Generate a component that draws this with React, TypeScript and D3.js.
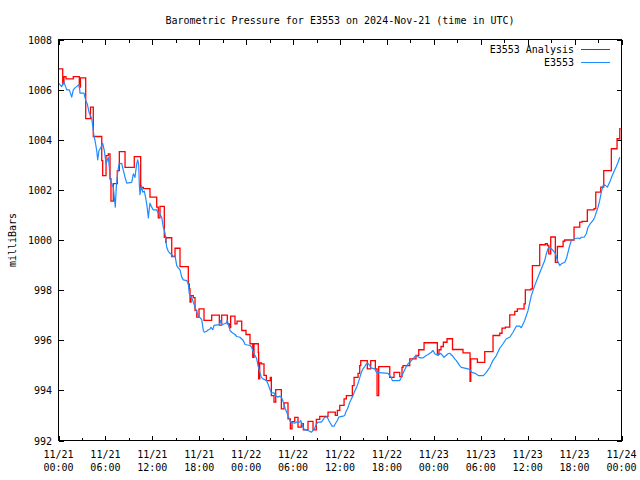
import React from "react";
import * as d3 from "d3";

const title = "Barometric Pressure for E3553 on 2024-Nov-21 (time in UTC)";
const yLabel = "milliBars";
const seriesNames = ["E3553 Analysis", "E3553"];
const seriesColors = ["#ff0000", "#1e8cff"];

const yTicks = [992, 994, 996, 998, 1000, 1002, 1004, 1006, 1008];
const xTickHours = [0, 6, 12, 18, 24, 30, 36, 42, 48, 54, 60, 66, 72];
const xTickDates = ["11/21", "11/21", "11/21", "11/21", "11/22", "11/22", "11/22", "11/22", "11/23", "11/23", "11/23", "11/23", "11/24"];
const xTickTimes = ["00:00", "06:00", "12:00", "18:00", "00:00", "06:00", "12:00", "18:00", "00:00", "06:00", "12:00", "18:00", "00:00"];

// hours since 2024-11-21 00:00 UTC, pressure (mb)
const analysis: [number, number][] = [
  [0, 1006.83], [0.54, 1006.23], [0.70, 1006.52], [0.96, 1006.43], [1.89, 1006.52],
  [2.66, 1006.10], [2.81, 1006.47], [3.48, 1004.84], [4.09, 1005.30], [4.45, 1004.13],
  [5.53, 1003.17], [5.65, 1002.57], [6.08, 1003.37], [6.37, 1003.44], [6.59, 1002.45],
  [6.71, 1001.55], [7.01, 1002.25], [7.52, 1002.77], [7.78, 1003.53], [8.51, 1002.90],
  [9.69, 1003.33], [10.51, 1002.10], [10.85, 1002.05], [11.70, 1001.71], [12.56, 1001.31],
  [12.76, 1000.88], [12.98, 1001.34], [13.53, 1000.11], [13.71, 999.91], [13.75, 1000.09],
  [14.48, 999.34], [14.90, 999.67], [15.54, 998.94], [16.60, 998.25], [16.73, 998.05],
  [16.82, 997.52], [16.95, 997.78], [17.24, 997.70], [17.46, 997.19], [17.68, 996.92],
  [17.97, 997.25], [18.61, 996.79], [19.59, 997.00], [20.57, 996.60], [20.87, 997.00],
  [21.59, 996.65], [21.85, 996.50], [22.02, 996.96], [22.57, 996.65], [22.83, 996.76],
  [23.43, 996.39], [23.98, 996.23], [24.49, 995.86], [24.84, 995.32], [25.00, 995.86],
  [25.55, 995.52], [25.60, 994.46], [25.73, 995.10], [25.94, 995.06], [26.28, 994.60],
  [26.58, 994.39], [27.09, 994.52], [27.22, 993.79], [27.56, 993.53], [27.78, 994.03],
  [28.50, 993.26], [28.85, 993.50], [29.35, 992.86], [29.65, 992.46], [29.86, 992.75],
  [30.21, 992.92], [30.63, 992.53], [31.05, 992.67], [31.31, 992.42], [31.91, 992.76],
  [32.55, 992.42], [32.97, 992.84], [33.41, 992.96], [34.47, 993.13], [35.40, 993.00],
  [35.66, 993.20], [35.97, 993.40], [36.52, 993.66], [36.81, 993.79], [37.58, 994.19],
  [37.80, 994.52], [38.31, 994.68], [38.52, 994.99], [38.65, 995.19], [39.49, 994.86],
  [39.93, 995.19], [40.52, 994.86], [40.74, 993.79], [40.95, 994.95], [42.36, 994.52],
  [42.91, 994.72], [43.64, 994.55], [43.93, 994.92], [44.06, 994.99], [44.92, 995.26],
  [45.72, 995.40], [46.07, 995.62], [46.75, 995.90], [48.45, 995.45], [48.66, 995.62],
  [48.92, 995.75], [49.22, 995.92], [49.69, 996.06], [50.39, 995.63], [51.73, 995.50],
  [52.63, 994.36], [52.72, 995.26], [53.57, 995.12], [54.51, 995.55], [55.57, 996.19],
  [56.43, 996.28], [56.72, 996.48], [57.15, 996.52], [57.71, 997.01], [58.35, 997.15],
  [58.68, 997.25], [59.54, 997.45], [59.70, 998.01], [60.43, 998.05], [60.60, 998.98],
  [61.54, 999.81], [62.26, 999.85], [62.52, 999.78], [62.70, 999.45], [62.95, 1000.12],
  [63.54, 999.11], [63.80, 999.74], [64.53, 999.95], [64.74, 1000.00], [65.93, 1000.51],
  [66.66, 1000.71], [66.96, 1000.74], [67.63, 1001.20], [68.49, 1001.25], [68.71, 1001.91],
  [69.35, 1002.11], [69.73, 1002.77], [70.70, 1003.64], [71.43, 1004.04], [71.78, 1004.44],
  [71.90, 1004.44],
];

const observed: [number, number][] = [
  [0, 1006.26], [0.41, 1006.12], [0.70, 1006.30], [1.05, 1005.99], [1.38, 1005.99],
  [1.69, 1005.70], [1.89, 1005.99], [2.11, 1006.07], [2.46, 1006.16], [2.66, 1006.20],
  [2.75, 1005.86], [3.26, 1005.86], [3.48, 1005.57], [3.68, 1005.43], [3.90, 1005.10],
  [4.25, 1004.84], [4.37, 1004.57], [4.54, 1004.13], [4.67, 1003.97], [4.89, 1003.57],
  [5.01, 1003.20], [5.18, 1003.57], [5.40, 1003.68], [5.65, 1003.86], [5.86, 1003.57],
  [6.08, 1003.04], [6.37, 1003.30], [6.50, 1002.90], [6.59, 1002.44], [6.80, 1002.24],
  [7.01, 1002.10], [7.26, 1001.31], [7.39, 1002.10], [7.57, 1002.70], [7.74, 1003.04],
  [8.08, 1003.06], [8.51, 1002.50], [8.72, 1002.27], [9.36, 1002.30], [9.57, 1002.64],
  [9.78, 1002.50], [10.00, 1003.04], [10.13, 1003.20], [10.26, 1003.00], [10.33, 1002.24],
  [10.42, 1001.81], [10.60, 1002.17], [10.77, 1001.91], [10.97, 1001.95], [11.13, 1001.71],
  [11.28, 1001.44], [11.41, 1001.11], [11.49, 1000.88], [11.61, 1001.24], [11.70, 1001.47],
  [11.92, 1001.31], [12.12, 1001.20], [12.56, 1001.20], [12.76, 1001.07], [12.98, 1001.04],
  [13.20, 1000.91], [13.40, 1000.51], [13.53, 1000.40], [13.71, 1000.11], [13.75, 999.91],
  [13.84, 999.71], [14.04, 999.55], [14.26, 999.47], [14.48, 999.42], [14.68, 999.34],
  [14.90, 999.38], [15.12, 998.98], [15.32, 998.89], [15.54, 998.81], [15.76, 998.52],
  [15.96, 998.41], [16.40, 998.38], [16.60, 998.25], [16.73, 997.85], [16.91, 997.72],
  [17.04, 997.70], [17.24, 997.52], [17.46, 997.32], [17.68, 997.12], [17.88, 996.99],
  [18.10, 996.90], [18.32, 996.82], [18.52, 996.39], [18.65, 996.32], [18.95, 996.36],
  [19.16, 996.42], [19.38, 996.45], [19.50, 996.52], [19.72, 996.42], [19.89, 996.59],
  [20.57, 996.62], [20.75, 996.79], [20.87, 996.62], [21.42, 996.68], [21.59, 996.79],
  [21.72, 996.62], [21.85, 996.52], [21.93, 996.39], [22.15, 996.32], [22.57, 996.23],
  [22.79, 996.15], [23.21, 996.12], [23.64, 995.99], [23.85, 995.83], [24.49, 995.79],
  [24.71, 995.72], [24.91, 995.52], [25.13, 995.39], [25.35, 995.26], [25.51, 994.99],
  [25.94, 994.52], [26.15, 994.46], [26.58, 994.40], [26.79, 994.26], [27.01, 994.06],
  [27.22, 993.90], [27.56, 993.90], [27.73, 993.79], [28.07, 993.73], [28.29, 993.77],
  [28.50, 993.73], [28.71, 993.57], [28.84, 993.43], [29.01, 993.26], [29.19, 993.13],
  [29.35, 993.00], [29.57, 992.82], [29.70, 992.73], [30.21, 992.69], [30.41, 992.73],
  [30.85, 992.73], [30.98, 992.80], [31.14, 992.64], [31.27, 992.53], [31.49, 992.42],
  [31.91, 992.40], [32.13, 992.37], [32.33, 992.33], [32.55, 992.40], [32.77, 992.50],
  [32.97, 992.64], [33.19, 992.73], [33.61, 992.73], [33.83, 992.82], [34.05, 992.93],
  [34.38, 992.93], [34.56, 992.80], [34.81, 992.67], [34.98, 992.57], [35.24, 992.57],
  [35.40, 992.67], [35.66, 992.80], [35.84, 992.93], [36.39, 992.97], [36.61, 993.00],
  [36.73, 993.13], [36.94, 993.26], [37.12, 993.40], [37.25, 993.53], [37.45, 993.66],
  [37.67, 993.79], [37.88, 993.97], [38.09, 994.10], [38.31, 994.28], [38.52, 994.50],
  [38.73, 994.72], [38.94, 994.86], [39.16, 994.95], [39.37, 995.06], [39.58, 995.08],
  [39.80, 995.00], [39.93, 994.90], [40.44, 994.86], [40.65, 994.72], [42.14, 994.68],
  [42.36, 994.59], [42.56, 994.52], [42.69, 994.39], [43.64, 994.39], [43.84, 994.52],
  [44.06, 994.68], [44.28, 994.82], [44.48, 994.95], [44.70, 995.06], [44.92, 995.12],
  [45.34, 995.26], [45.56, 995.35], [45.76, 995.39], [46.20, 995.30], [46.62, 995.30],
  [47.04, 995.39], [47.26, 995.43], [47.68, 995.52], [47.90, 995.59], [48.12, 995.46],
  [48.54, 995.39], [48.88, 995.48], [49.30, 995.32], [49.82, 995.46], [50.03, 995.48],
  [50.46, 995.35], [50.67, 995.26], [50.88, 995.19], [51.10, 995.09], [51.31, 994.99],
  [51.52, 994.92], [52.37, 994.86], [52.63, 994.82], [52.85, 994.72], [53.27, 994.68],
  [53.69, 994.59], [54.33, 994.59], [54.71, 994.72], [55.15, 994.92], [55.57, 995.20],
  [55.99, 995.39], [56.43, 995.68], [56.85, 995.86], [57.27, 996.06], [57.71, 996.12],
  [58.13, 996.32], [58.55, 996.56], [58.98, 996.56], [59.19, 996.50], [59.62, 996.79],
  [60.05, 997.19], [60.47, 997.78], [60.90, 998.18], [61.33, 998.52], [61.75, 998.85],
  [62.18, 999.18], [62.39, 999.45], [62.60, 999.65], [62.82, 999.71], [63.03, 999.65],
  [63.25, 999.58], [63.54, 999.47], [63.80, 999.18], [64.10, 998.98], [64.31, 999.05],
  [64.74, 999.11], [64.95, 999.25], [65.16, 999.51], [65.38, 999.78], [65.58, 999.98],
  [66.02, 1000.05], [66.44, 1000.08], [66.66, 1000.05], [66.86, 1000.11], [67.21, 1000.11],
  [67.50, 1000.25], [67.72, 1000.51], [67.94, 1000.62], [68.36, 1000.78], [68.58, 1000.91],
  [68.78, 1001.11], [69.00, 1001.31], [69.21, 1001.57], [69.42, 1001.91], [69.64, 1002.17],
  [69.86, 1002.20], [70.19, 1002.11], [70.50, 1002.31], [70.70, 1002.48], [70.92, 1002.64],
  [71.14, 1002.80], [71.34, 1002.93], [71.56, 1003.10], [71.78, 1003.30],
];

const W = 640;
const H = 480;
const L = 58.5;
const R = 621.5;
const T = 39.5;
const B = 440.5;
const FONT = "'DejaVu Sans Mono', monospace";

export default function App() {
  const x = d3.scaleLinear().domain([0, 72]).range([L, R]);
  const y = d3.scaleLinear().domain([992, 1008]).range([B, T]);

  const redLine = d3
    .line<[number, number]>()
    .x((d) => x(d[0]))
    .y((d) => y(d[1]))
    .curve(d3.curveStepAfter);
  const blueLine = d3
    .line<[number, number]>()
    .x((d) => x(d[0]))
    .y((d) => y(d[1]));

  const minorX = d3.range(0, 73, 3);

  return (
    <svg
      width={W}
      height={H}
      style={{ position: "absolute", left: 0, top: 0, background: "#fff" }}
      fontFamily={FONT}
      fontSize={10}
    >
      <rect x={0} y={0} width={W} height={H} fill="#fff" />
      <text x={(L + R) / 2} y={24} textAnchor="middle" fill="#000">
        {title}
      </text>
      <text transform={`translate(15.5,${(T + B) / 2}) rotate(-90)`} textAnchor="middle" fill="#000">
        {yLabel}
      </text>

      {/* y ticks */}
      {yTicks.map((v) => (
        <g key={"y" + v}>
          <line x1={L} x2={L + 5} y1={Math.round(y(v)) + 0.5} y2={Math.round(y(v)) + 0.5} stroke="#000" shapeRendering="crispEdges" />
          <line x1={R - 5} x2={R} y1={Math.round(y(v)) + 0.5} y2={Math.round(y(v)) + 0.5} stroke="#000" shapeRendering="crispEdges" />
          <text x={52} y={y(v) + 4} textAnchor="end" fill="#000">
            {v}
          </text>
        </g>
      ))}

      {/* x ticks */}
      {minorX.map((h) => {
        const len = h % 6 === 0 ? 5 : 3;
        const xx = Math.round(x(h)) + 0.5;
        return (
          <g key={"x" + h}>
            <line x1={xx} x2={xx} y1={B} y2={B - len} stroke="#000" shapeRendering="crispEdges" />
            <line x1={xx} x2={xx} y1={T} y2={T + len} stroke="#000" shapeRendering="crispEdges" />
          </g>
        );
      })}
      {xTickHours.map((h, i) => (
        <g key={"xl" + h}>
          <text x={x(h)} y={458} textAnchor="middle" fill="#000">
            {xTickDates[i]}
          </text>
          <text x={x(h)} y={471} textAnchor="middle" fill="#000">
            {xTickTimes[i]}
          </text>
        </g>
      ))}

      {/* data */}
      <path d={redLine(analysis) || ""} fill="none" stroke={seriesColors[0]} strokeWidth={1.3} strokeLinejoin="miter" />
      <path d={blueLine(observed) || ""} fill="none" stroke={seriesColors[1]} strokeWidth={1.2} strokeLinejoin="round" />

      {/* legend */}
      {seriesNames.map((n, i) => (
        <g key={n}>
          <text x={574} y={53 + i * 13} textAnchor="end" fill="#000">
            {n}
          </text>
          <line x1={581} x2={610} y1={49.5 + i * 13} y2={49.5 + i * 13} stroke={seriesColors[i]} shapeRendering="crispEdges" />
        </g>
      ))}

      {/* frame */}
      <rect x={L} y={T} width={R - L} height={B - T} fill="none" stroke="#000" shapeRendering="crispEdges" />
    </svg>
  );
}
